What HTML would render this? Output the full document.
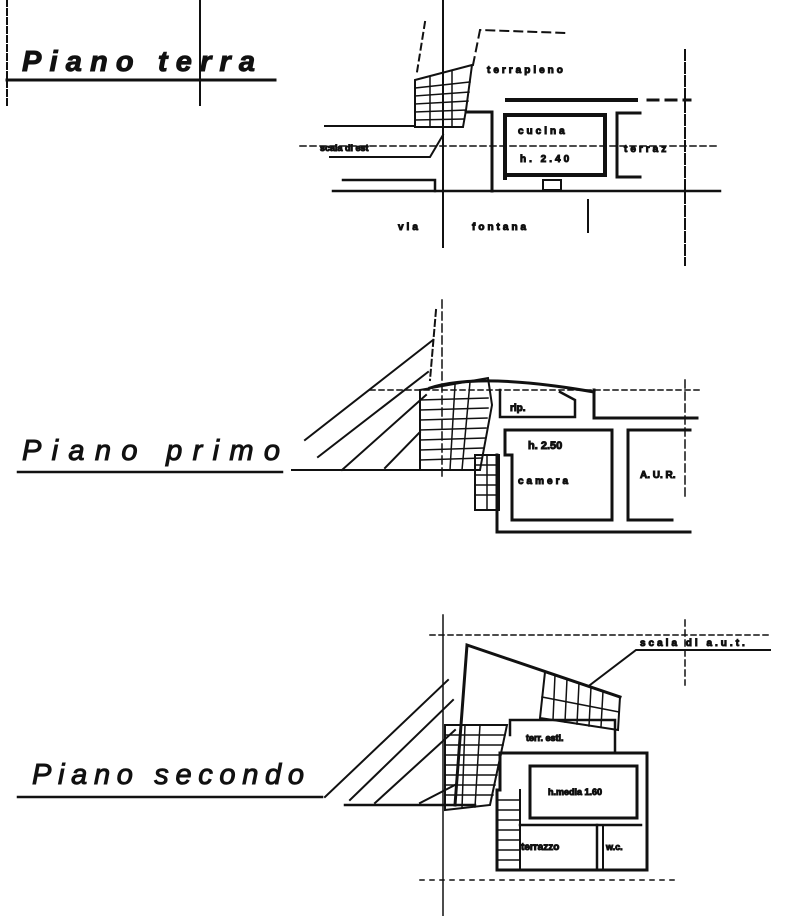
<!DOCTYPE html>
<html><head><meta charset="utf-8"><style>
html,body{margin:0;padding:0;background:#fff;}
svg{display:block;}
text{font-family:"Liberation Sans",sans-serif;fill:#111;}
.t{font-style:italic;font-size:29px;}
.s{font-weight:bold;font-size:10px;letter-spacing:3px;}
</style></head><body>
<svg width="791" height="916" viewBox="0 0 791 916" xmlns="http://www.w3.org/2000/svg" stroke="#111" fill="none" stroke-linecap="square">
<!-- ===== Piano terra ===== -->
<line x1="7" y1="0" x2="7" y2="105" stroke-width="2" stroke-dasharray="6 3"/>
<line x1="200" y1="0" x2="200" y2="105" stroke-width="2"/>
<line x1="7" y1="80" x2="275" y2="80" stroke-width="3"/>
<text x="22" y="71" class="t" font-weight="bold" textLength="233" lengthAdjust="spacing">Piano terra</text>

<line x1="443" y1="0" x2="443" y2="247" stroke-width="2"/>
<line x1="685" y1="50" x2="685" y2="265" stroke-width="2" stroke-dasharray="10 3"/>
<line x1="588" y1="200" x2="588" y2="232" stroke-width="2"/>
<path d="M425 22 L417 72" stroke-width="2" stroke-dasharray="6 5"/>
<path d="M473 65 L480 30 L567 33" stroke-width="2" stroke-dasharray="8 6"/>
<path d="M415 80 L472 65 L466 110 L463 127 L415 127 Z" stroke-width="2"/>
<g stroke-width="1.5">
<line x1="415" y1="88" x2="470" y2="82"/><line x1="415" y1="96" x2="469" y2="92"/><line x1="415" y1="104" x2="468" y2="101"/><line x1="415" y1="112" x2="466" y2="110"/><line x1="415" y1="120" x2="464" y2="119"/>
<line x1="430" y1="77" x2="430" y2="127"/><line x1="452" y1="71" x2="452" y2="127"/>
</g>
<text x="487" y="73" class="s">terrapieno</text>
<line x1="507" y1="100" x2="636" y2="100" stroke-width="4"/>
<line x1="648" y1="100" x2="690" y2="100" stroke-width="3" stroke-dasharray="10 8"/>
<path d="M466 112 L492 112 L492 191" stroke-width="3"/>
<path d="M505 178 L505 115 L605 115 L605 175 L505 175" stroke-width="4"/>
<text x="518" y="134" class="s">cucina</text>
<text x="520" y="162" class="s">h. 2.40</text>
<path d="M640 113 L617 113 L617 177 L640 177" stroke-width="3"/>
<text x="624" y="152" class="s">terraz</text>
<line x1="325" y1="126" x2="415" y2="126" stroke-width="2"/>
<line x1="300" y1="146" x2="720" y2="146" stroke-width="1.5" stroke-dasharray="6 4"/>
<text x="320" y="151" font-size="9" font-weight="bold">scala di est</text>
<path d="M330 157 L430 157 L443 135" stroke-width="2"/>
<path d="M343 180 L435 180 L435 191" stroke-width="2.5"/>
<line x1="333" y1="191" x2="720" y2="191" stroke-width="2.5"/>
<rect x="543" y="180" width="18" height="10" stroke-width="2"/>
<text x="398" y="230" class="s">via</text>
<text x="472" y="230" class="s">fontana</text>

<!-- ===== Piano primo ===== -->
<text x="22" y="460" class="t" textLength="258" lengthAdjust="spacing">Piano  primo</text>
<line x1="18" y1="472" x2="282" y2="472" stroke-width="2.5"/>
<line x1="442" y1="300" x2="442" y2="478" stroke-width="1.5" stroke-dasharray="8 4"/>
<path d="M436 310 L430 380" stroke-width="2" stroke-dasharray="6 4"/>
<line x1="370" y1="390" x2="700" y2="390" stroke-width="1.5" stroke-dasharray="5 4"/>
<g stroke-width="2">
<line x1="305" y1="440" x2="433" y2="340"/><line x1="318" y1="457" x2="428" y2="372"/><line x1="342" y1="470" x2="426" y2="395"/><line x1="385" y1="468" x2="420" y2="432"/>
</g>
<line x1="292" y1="470" x2="478" y2="470" stroke-width="2"/>
<path d="M420 390 L488 378 L492 405 L480 470 L420 470 Z" stroke-width="2"/>
<g stroke-width="1.5">
<line x1="420" y1="400" x2="488" y2="398"/><line x1="420" y1="410" x2="488" y2="408"/><line x1="420" y1="420" x2="487" y2="418"/><line x1="420" y1="430" x2="486" y2="428"/><line x1="420" y1="440" x2="485" y2="438"/><line x1="420" y1="450" x2="483" y2="448"/><line x1="420" y1="460" x2="482" y2="458"/>
<line x1="455" y1="385" x2="450" y2="470"/><line x1="470" y1="382" x2="462" y2="470"/>
</g>
<path d="M430 388 Q480 372 594 392" stroke-width="3"/>
<path d="M500 390 L500 417 L575 417 L575 400 L560 392" stroke-width="2.5"/>
<text x="510" y="411" font-size="10" font-weight="bold">rip.</text>
<path d="M594 390 L594 418 L697 418" stroke-width="3"/>
<path d="M505 430 L612 430 L612 520 L512 520 L512 455 L505 455 L505 430" stroke-width="3"/>
<text x="528" y="449" font-size="11" font-weight="bold">h. 2.50</text>
<text x="518" y="484" class="s">camera</text>
<path d="M690 430 L628 430 L628 520 L672 520" stroke-width="3"/>
<text x="640" y="478" font-size="10" font-weight="bold">A. U. R.</text>
<rect x="475" y="455" width="24" height="55" stroke-width="2"/>
<g stroke-width="1.5"><line x1="475" y1="465" x2="499" y2="465"/><line x1="475" y1="475" x2="499" y2="475"/><line x1="475" y1="485" x2="499" y2="485"/><line x1="475" y1="495" x2="499" y2="495"/><line x1="487" y1="455" x2="487" y2="510"/></g>
<line x1="497" y1="532" x2="690" y2="532" stroke-width="3"/>
<line x1="497" y1="455" x2="497" y2="532" stroke-width="3"/>
<line x1="685" y1="380" x2="685" y2="500" stroke-width="1.5" stroke-dasharray="8 4"/>

<!-- ===== Piano secondo ===== -->
<text x="32" y="784" class="t" textLength="272" lengthAdjust="spacing">Piano  secondo</text>
<line x1="18" y1="797" x2="322" y2="797" stroke-width="2.5"/>
<line x1="443" y1="615" x2="443" y2="916" stroke-width="1.5"/>
<line x1="430" y1="635" x2="770" y2="635" stroke-width="1.5" stroke-dasharray="5 4"/>
<line x1="685" y1="620" x2="685" y2="685" stroke-width="1.5" stroke-dasharray="6 4"/>
<path d="M455 805 L467 645 L620 697" stroke-width="3"/>
<path d="M545 672 L620 697 L618 730 L540 718 Z" stroke-width="2"/>
<g stroke-width="1.5"><line x1="555" y1="675" x2="553" y2="720"/><line x1="567" y1="679" x2="565" y2="722"/><line x1="579" y1="683" x2="577" y2="724"/><line x1="591" y1="687" x2="589" y2="726"/><line x1="603" y1="691" x2="601" y2="727"/><line x1="542" y1="697" x2="619" y2="712"/></g>
<path d="M590 685 L636 650 L770 650" stroke-width="2"/>
<text x="640" y="646" class="s" font-size="9">scala di a.u.t.</text>
<path d="M510 735 L510 720 L615 720 L615 753" stroke-width="2.5"/>
<text x="526" y="741" font-size="9" font-weight="bold">terr. estl.</text>
<path d="M445 725 L507 725 L490 805 L445 810 Z" stroke-width="2"/>
<g stroke-width="1.5"><line x1="445" y1="735" x2="505" y2="735"/><line x1="445" y1="745" x2="503" y2="745"/><line x1="445" y1="755" x2="501" y2="755"/><line x1="445" y1="765" x2="499" y2="765"/><line x1="445" y1="775" x2="497" y2="775"/><line x1="445" y1="785" x2="495" y2="785"/><line x1="445" y1="795" x2="493" y2="795"/><line x1="465" y1="725" x2="462" y2="808"/><line x1="480" y1="725" x2="475" y2="807"/></g>
<g stroke-width="2"><line x1="325" y1="797" x2="448" y2="680"/><line x1="350" y1="800" x2="453" y2="700"/><line x1="375" y1="803" x2="455" y2="730"/><line x1="420" y1="803" x2="455" y2="785"/></g>
<line x1="345" y1="805" x2="475" y2="805" stroke-width="2.5"/>
<path d="M500 790 L500 753 L647 753 L647 870 L497 870 L497 790" stroke-width="3"/>
<rect x="530" y="766" width="107" height="52" stroke-width="3"/>
<text x="548" y="795" font-size="9" font-weight="bold">h.media 1.60</text>
<line x1="520" y1="825" x2="641" y2="825" stroke-width="2.5"/>
<line x1="597" y1="825" x2="597" y2="868" stroke-width="2.5"/>
<line x1="603" y1="825" x2="603" y2="868" stroke-width="2"/>
<line x1="520" y1="790" x2="520" y2="868" stroke-width="2"/>
<text x="521" y="850" font-size="10" font-weight="bold">terrazzo</text>
<text x="606" y="850" font-size="9" font-weight="bold">w.c.</text>
<g stroke-width="1.5"><line x1="497" y1="800" x2="520" y2="800"/><line x1="497" y1="810" x2="520" y2="810"/><line x1="497" y1="820" x2="520" y2="820"/><line x1="497" y1="830" x2="520" y2="830"/><line x1="497" y1="840" x2="520" y2="840"/><line x1="497" y1="850" x2="520" y2="850"/><line x1="497" y1="860" x2="520" y2="860"/></g>
<line x1="420" y1="880" x2="680" y2="880" stroke-width="1.5" stroke-dasharray="4 6"/>
</svg>
</body></html>
